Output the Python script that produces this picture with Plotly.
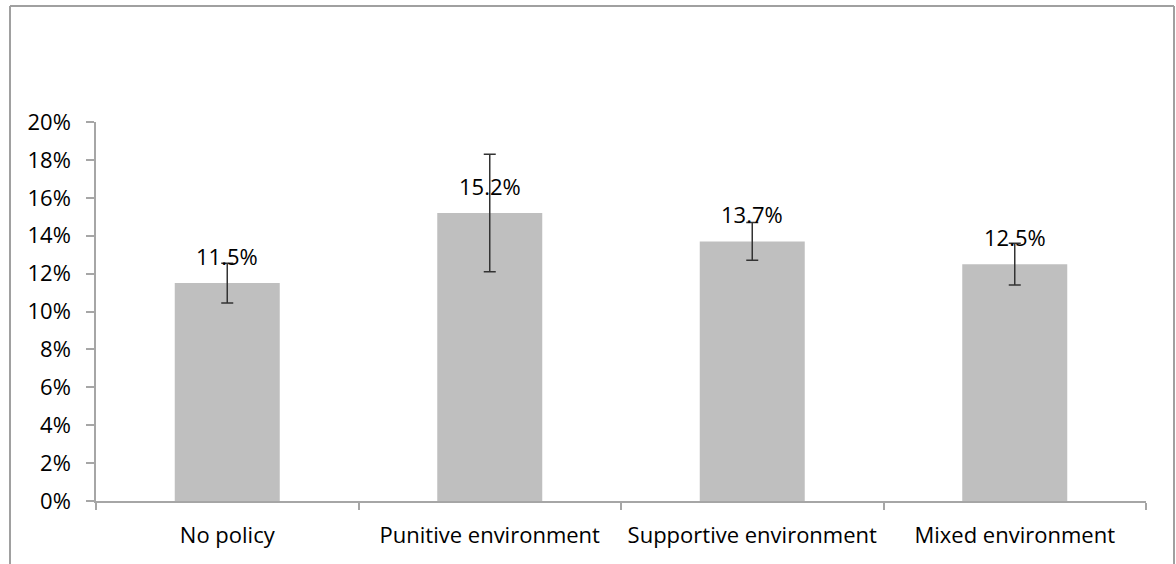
import plotly.graph_objects as go

categories = ["No policy", "Punitive environment", "Supportive environment", "Mixed environment"]
values = [0.115, 0.152, 0.137, 0.125]
errors = [0.0105, 0.031, 0.010, 0.011]
y_ticks = [0, 0.02, 0.04, 0.06, 0.08, 0.10, 0.12, 0.14, 0.16, 0.18, 0.20]
y_tick_labels = ["0%", "2%", "4%", "6%", "8%", "10%", "12%", "14%", "16%", "18%", "20%"]

FONT = "Open Sans"
FSIZE = 22
AXIS_COLOR = "#a6a6a6"

fig = go.Figure()
fig.add_trace(go.Bar(
    x=categories,
    y=values,
    width=0.4,
    marker=dict(color="#bfbfbf", line=dict(width=0)),
    error_y=dict(type="data", array=errors, visible=True, color="#333333", thickness=1.5, width=6),
))

for c, v in zip(categories, values):
    fig.add_annotation(x=c, y=v, text=f"{v*100:.1f}%", showarrow=False,
                       yanchor="middle", yshift=27,
                       font=dict(family=FONT, size=FSIZE, color="black"))

# outer chart frame
L, R, T, B = 96, 30, 122, 63
W, H = 1176, 564
pw, ph = W - L - R, H - T - B
def px_x(p):
    return (p - L) / pw
def px_y(p):
    return (H - B - p) / ph

fig.add_shape(type="line", xref="paper", yref="paper",
              x0=px_x(10), x1=px_x(10), y0=px_y(6), y1=px_y(600),
              line=dict(color="#a0a0a0", width=2))
fig.add_shape(type="line", xref="paper", yref="paper",
              x0=px_x(10), x1=px_x(1174), y0=px_y(6), y1=px_y(6),
              line=dict(color="#a0a0a0", width=2))
fig.add_shape(type="line", xref="paper", yref="paper",
              x0=px_x(1174), x1=px_x(1174), y0=px_y(6), y1=px_y(600),
              line=dict(color="#a0a0a0", width=2))

fig.update_layout(
    width=W, height=H,
    margin=dict(l=L, r=R, t=T, b=B),
    paper_bgcolor="white", plot_bgcolor="white",
    showlegend=False,
    font=dict(family=FONT, size=FSIZE, color="black"),
)
fig.update_xaxes(
    showline=True, linecolor=AXIS_COLOR, linewidth=1.5,
    ticks="outside", tickson="boundaries", ticklen=7, tickcolor=AXIS_COLOR, tickwidth=1.5,
    showgrid=False, tickfont=dict(family=FONT, size=FSIZE, color="black"),
    ticklabelstandoff=14,
)
fig.update_yaxes(
    range=[0, 0.2], tickvals=y_ticks, ticktext=y_tick_labels,
    showline=True, linecolor=AXIS_COLOR, linewidth=1.5,
    ticks="outside", ticklen=8, tickcolor=AXIS_COLOR, tickwidth=1.5,
    showgrid=False, zeroline=False, tickfont=dict(family=FONT, size=FSIZE, color="black"),
    ticklabelstandoff=11,
)

fig.write_html("out.html", config={"displayModeBar": False},
               post_script="document.body.style.margin='0';")
